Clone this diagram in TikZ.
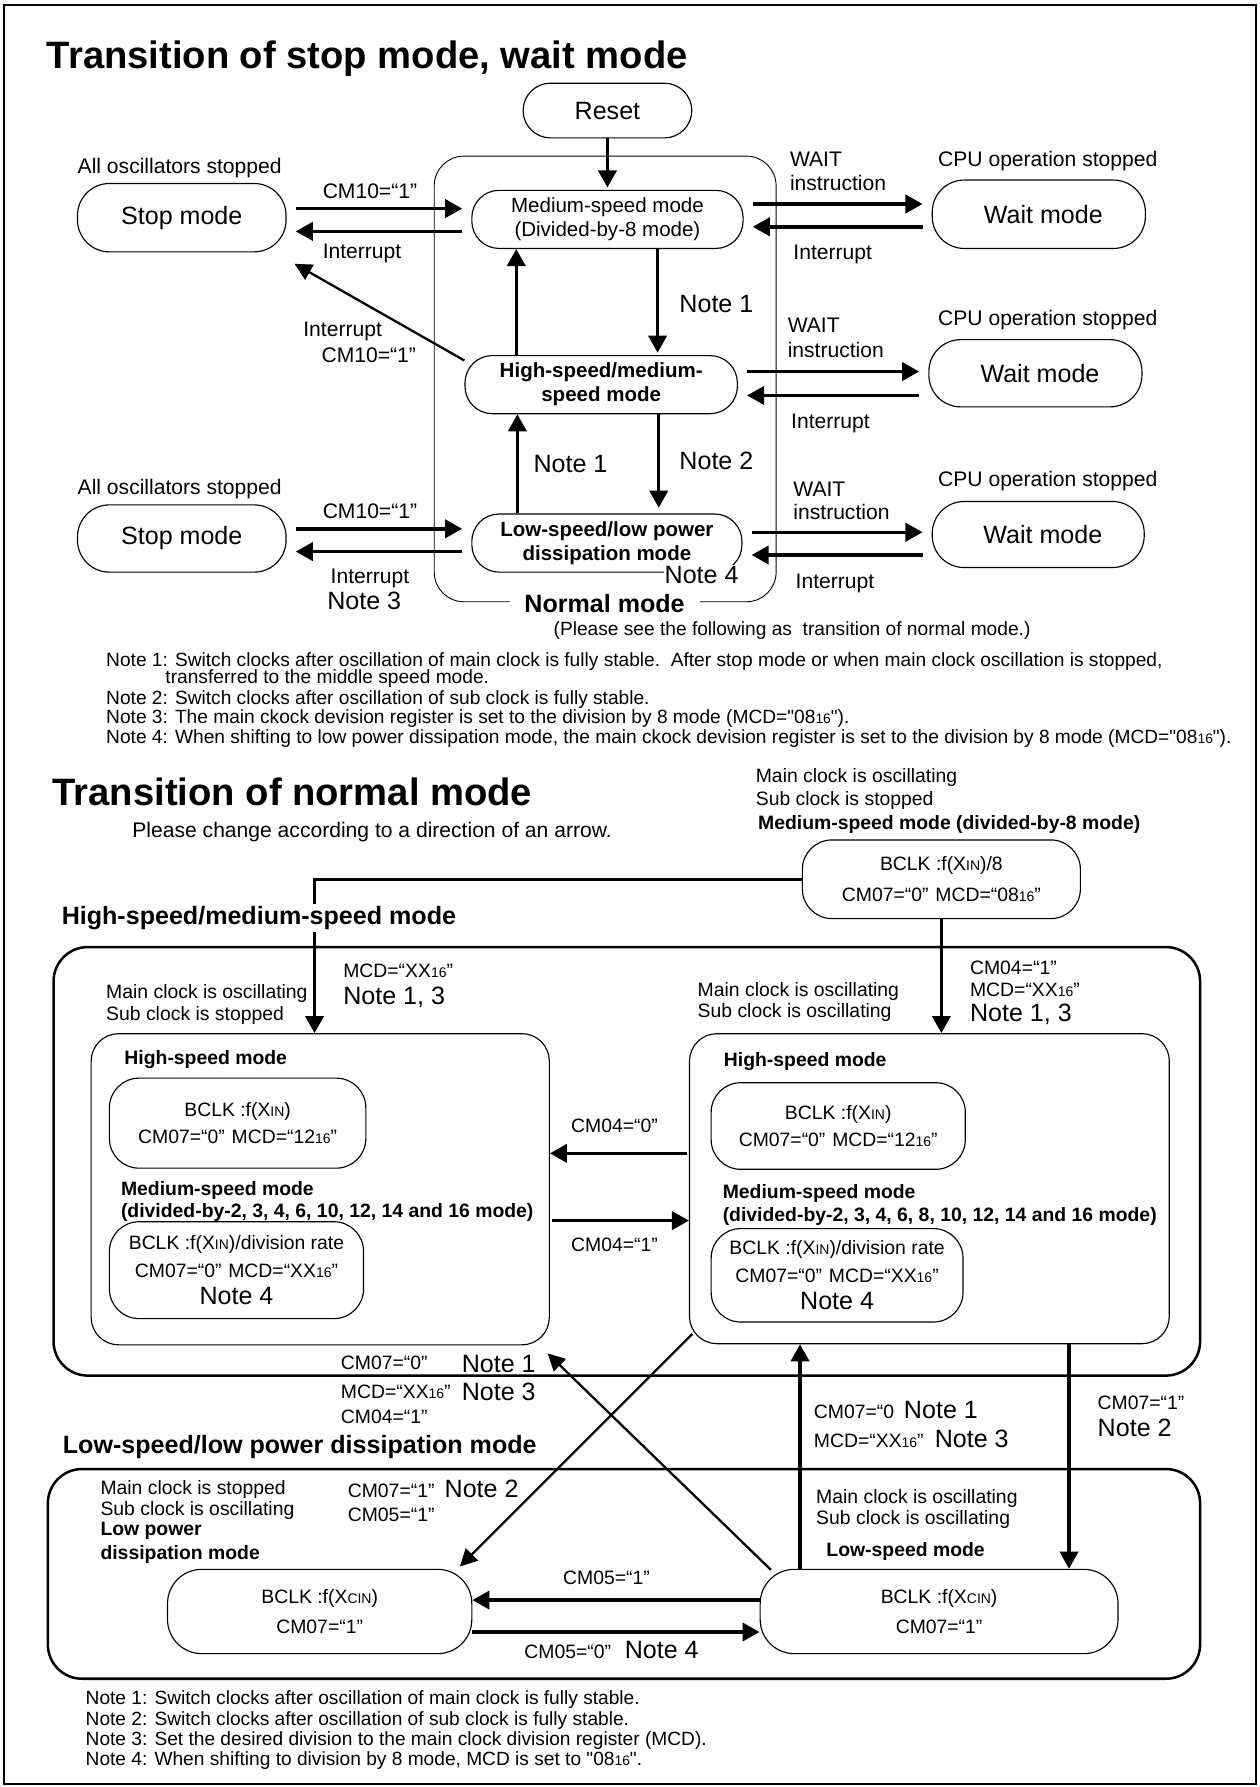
\documentclass[tikz,border=0pt]{standalone}
\usepackage{fontspec}
\setmainfont{Liberation Sans}
\newfontfamily\qfont{Liberation Sans}
\usepackage{graphicx}
\usetikzlibrary{arrows.meta,calc}

\newcommand{\lowsub}[1]{\scalebox{0.72}{#1}}
\newcommand{\ttlfont}{\fontsize{33.5}{40}\selectfont\bfseries}
\newcommand{\hdfont}{\fontsize{22}{26}\selectfont\bfseries}
\newcommand{\modefont}{\fontsize{22}{26}\selectfont}
\newcommand{\lblfont}{\fontsize{18.5}{21}\selectfont}
\newcommand{\bxfont}{\fontsize{18}{21}\selectfont}
\newcommand{\smfont}{\fontsize{17}{24}\selectfont}
\newcommand{\notefont}{\qfont\fontsize{16.8}{18}\selectfont}

\begin{document}
\begin{tikzpicture}[x=1pt,y=-1pt]
	\tikzstyle{modebox}=[draw,line width=1pt,rounded corners=24pt,inner sep=0pt,align=center]
	\tikzstyle{outerbox}=[draw,line width=2.2pt,rounded corners=30pt]
	\tikzstyle{txt}=[inner sep=0pt,anchor=base west]
	\tikzstyle{arr}=[line width=3pt,-{Triangle[length=15pt,width=16pt]}]
	\tikzstyle{harr}=[arr,shorten <=8pt,shorten >=8pt]
	\tikzstyle{darr}=[line width=2pt,-{Triangle[length=15pt,width=15pt]}]

	\useasboundingbox (0,0) rectangle (1105,1568);
	\draw[line width=1.8pt] (3.5,4) rectangle (1102,1565);

	% transition of stop mode, wait mode
	\node[txt,font=\ttlfont] (ttlA) at (41,60) {Transition of stop mode, wait mode};

	\node[draw,line width=0.8pt,rounded corners=26pt,minimum width=300pt,minimum height=391pt] (normal) at (531,332.5) {};
	\node[modebox,font=\modefont,minimum width=148pt,minimum height=48pt] (reset) at (533,97) {Reset};
	\node[modebox,font=\bxfont,minimum width=238pt,minimum height=51pt] (medA) at (533,192.5) {Medium-speed mode\\(Divided-by-8 mode)};
	\node[modebox,font={\bxfont\bfseries},minimum width=239pt,minimum height=51pt] (high) at (527.5,337.5) {High-speed/medium-\\speed mode};
	\node[modebox,font={\bxfont\bfseries},minimum width=237pt,minimum height=51pt] (low) at (532.5,476.5) {Low-speed/low power\\dissipation mode};

	\node[modebox,font=\modefont,rounded corners=28pt,minimum width=183pt,minimum height=60pt] (stopA) at (159.5,191) {Stop mode};
	\node[modebox,font=\modefont,rounded corners=28pt,minimum width=183pt,minimum height=59pt] (stopB) at (159.5,472.5) {Stop mode};
	\node[modebox,font=\modefont,rounded corners=28pt,minimum width=187pt,minimum height=60pt] (waitA) at (911.5,188) {\hspace*{8pt}\raisebox{-4pt}{Wait mode}};
	\node[modebox,font=\modefont,rounded corners=28pt,minimum width=187pt,minimum height=59pt] (waitB) at (908.5,327.5) {\hspace*{8pt}\raisebox{-3pt}{Wait mode}};
	\node[modebox,font=\modefont,rounded corners=28pt,minimum width=186pt,minimum height=58pt] (waitC) at (911,469) {\hspace*{8pt}\raisebox{-4pt}{Wait mode}};

	\draw[arr,shorten >=2pt] (reset) -- (medA);
	\draw[arr] ($(high.north)+(-74.5,0)$) -- ($(medA.south -| high.north)+(-74.5,0)$);
	\draw[arr,shorten >=2pt] ($(medA.south)+(44,0)$) -- ($(medA.south |- high.north)+(44,0)$);
	\draw[arr] ($(low.north)+(-78.5,0)$) -- ($(low.north |- high.south)+(-78.5,0)$);
	\draw[arr,shorten >=5pt] ($(high.south)+(50.5,0)$) -- ($(high.south |- low.north)+(50.5,0)$);

	\draw[harr] ($(stopA.east)+(0,-8)$) -- ($(stopA.east -| medA.west)+(0,-8)$);
	\draw[harr] ($(medA.west)+(0,10.5)$) -- ($(medA.west -| stopA.east)+(0,10.5)$);
	\draw[harr] ($(medA.east)+(0,-13.5)$) -- ($(medA.east -| waitA.west)+(0,-13.5)$);
	\draw[harr] ($(waitA.west)+(0,11)$) -- ($(waitA.west -| medA.east)+(0,11)$);
	\draw[harr] ($(high.east)+(0,-11.5)$) -- ($(high.east -| waitB.west)+(0,-11.5)$);
	\draw[harr] ($(waitB.west)+(0,19.5)$) -- ($(waitB.west -| high.east)+(0,19.5)$);
	\draw[harr] ($(stopB.east)+(0,-8.5)$) -- ($(stopB.east -| low.west)+(0,-8.5)$);
	\draw[harr] ($(low.west)+(0,7.5)$) -- ($(low.west -| stopB.east)+(0,7.5)$);
	\draw[harr] ($(low.east)+(0,-9.5)$) -- ($(low.east -| waitC.west)+(0,-9.5)$);
	\draw[harr] ($(waitC.west)+(0,18)$) -- ($(waitC.west -| low.east)+(0,18)$);
	\draw[darr] (high.170) -- ($(stopA.south east)+(7,10)$);

	\node[txt,font=\lblfont] (osc1) at (68,152) {All oscillators stopped};
	\node[txt,font=\lblfont] (cmA) at (283,174) {CM10=“1”};
	\node[txt,font=\lblfont] (intA) at (283,227) {Interrupt};
	\node[txt,font=\lblfont] (intD) at (266,295) {Interrupt};
	\node[txt,font=\lblfont] (cmD) at (282,318) {CM10=“1”};
	\node[txt,font=\lblfont] (osc2) at (68,434) {All oscillators stopped};
	\node[txt,font=\lblfont] (cmB) at (283,455) {CM10=“1”};
	\node[txt,font=\lblfont] (intB) at (290,512) {Interrupt};
	\node[txt,font=\modefont] (nt3) at (287,535) {Note 3};

	\node[txt,font=\lblfont] (cpuA) at (823,146) {CPU operation stopped};
	\node[txt,font=\lblfont] (wtA) at (693,146) {WAIT};
	\node[txt,font=\lblfont] (insA) at (693,167) {instruction};
	\node[txt,font=\lblfont] (wintA) at (696,228) {Interrupt};
	\node[txt,font=\lblfont] (cpuB) at (823,286) {CPU operation stopped};
	\node[txt,font=\lblfont] (wtB) at (691,292) {WAIT};
	\node[txt,font=\lblfont] (insB) at (691,314) {instruction};
	\node[txt,font=\lblfont] (wintB) at (694,376) {Interrupt};
	\node[txt,font=\lblfont] (cpuC) at (823,427) {CPU operation stopped};
	\node[txt,font=\lblfont] (wtC) at (696,436) {WAIT};
	\node[txt,font=\lblfont] (insC) at (696,456) {instruction};
	\node[txt,font=\lblfont] (wintC) at (698,516) {Interrupt};

	\node[txt,font=\modefont] (ntA) at (596,274) {Note 1};
	\node[txt,font=\modefont] (ntB) at (468,415) {Note 1};
	\node[txt,font=\modefont] (ntC) at (596,412) {Note 2};
	\node[txt,font=\modefont,fill=white,inner sep=1pt] (ntD) at (582,512) {Note 4};
	\node[font=\hdfont,fill=white,inner xsep=13pt,inner ysep=1pt,anchor=base] (normlbl) at (530.5,537) {Normal mode};
	\node[txt,font=\notefont,anchor=base] (see) at (695,558) {(Please see the following as \ transition of normal mode.)};

	\node[txt,font=\notefont] (topn1) at (93,585) {Note 1: Switch clocks after oscillation of main clock is fully stable.\ \ After stop mode or when main clock oscillation is stopped,};
	\node[txt,font=\notefont] (topn1b) at (145,600) {transferred to the middle speed mode.};
	\node[txt,font=\notefont] (topn2) at (93,618) {Note 2: Switch clocks after oscillation of sub clock is fully stable.};
	\node[txt,font=\notefont] (topn3) at (93,635) {Note 3: The main ckock devision register is set to the division by 8 mode (MCD="08\lowsub{16}").};
	\node[txt,font=\notefont] (topn4) at (93,652) {Note 4: When shifting to low power dissipation mode, the main ckock devision register is set to the division by 8 mode (MCD="08\lowsub{16}").};

	% transition of normal mode
	\node[txt,font=\ttlfont] (ttlB) at (46,706.5) {Transition of normal mode};
	\node[txt,font=\lblfont] (please) at (116,735) {Please change according to a direction of an arrow.};
	\node[txt,font=\smfont] (d8a) at (663,687) {Main clock is oscillating};
	\node[txt,font=\smfont] (d8b) at (663,707) {Sub clock is stopped};
	\node[txt,font={\smfont\bfseries}] (d8c) at (665,728) {Medium-speed mode (divided-by-8 mode)};
	\node[modebox,font=\smfont,rounded corners=26pt,minimum width=244pt,minimum height=69pt] (div8) at (826,771.5) {BCLK :f(X\lowsub{IN})/8\\[3pt]CM07=“0”\hspace{6pt}MCD=“08\lowsub{16}”};

	\node[outerbox,minimum width=1006pt,minimum height=376pt] (hsmsC) at (550,1019) {};
	\node[outerbox,minimum width=1011pt,minimum height=184pt] (lsC) at (547.5,1381) {};

	\node[modebox,rounded corners=24pt,minimum width=402pt,minimum height=273pt] (hsL) at (281,1043.5) {};
	\node[modebox,rounded corners=24pt,minimum width=421pt,minimum height=272pt] (hsR) at (815.5,1043) {};
	\node[modebox,font=\smfont,rounded corners=26pt,minimum width=225pt,minimum height=79pt] (hsLa) at (208.5,985.5) {BCLK :f(X\lowsub{IN})\\CM07=“0”\hspace{6pt}MCD=“12\lowsub{16}”};
	\node[modebox,font=\smfont,rounded corners=26pt,minimum width=223pt,minimum height=85pt] (hsLb) at (207.5,1114.5) {BCLK :f(X\lowsub{IN})/division rate\\CM07=“0”\hspace{6pt}MCD=“XX\lowsub{16}”\\{\modefont Note 4}};
	\node[modebox,font=\smfont,rounded corners=26pt,minimum width=223pt,minimum height=76pt] (hsRa) at (735.5,988) {BCLK :f(X\lowsub{IN})\\CM07=“0”\hspace{6pt}MCD=“12\lowsub{16}”};
	\node[modebox,font=\smfont,rounded corners=26pt,minimum width=221pt,minimum height=82pt] (hsRb) at (734.5,1119) {BCLK :f(X\lowsub{IN})/division rate\\CM07=“0”\hspace{6pt}MCD=“XX\lowsub{16}”\\{\modefont Note 4}};
	\node[modebox,font=\smfont,rounded corners=30pt,minimum width=267pt,minimum height=74pt] (lpd) at (280.5,1414) {BCLK :f(X\lowsub{CIN})\\[3pt]CM07=“1”};
	\node[modebox,font=\smfont,rounded corners=30pt,minimum width=314pt,minimum height=74pt] (lsm) at (824,1414) {BCLK :f(X\lowsub{CIN})\\[3pt]CM07=“1”};

	\draw[arr] (div8.west) -| ([xshift=-5pt]hsL.north);
	\draw[arr] (div8.south) -- (div8.south |- hsR.north);
	\draw[arr,shorten <=2pt] ($(hsR.west)+(0,-31)$) -- ($(hsR.west -| hsL.east)+(0,-31)$);
	\draw[arr,shorten <=2pt] ($(hsL.east)+(0,27.5)$) -- ($(hsL.east -| hsR.west)+(0,27.5)$);
	\draw[arr] ($(lsm.north)+(-122,0)$) -- ($(lsm.north |- hsR.south)+(-122,0)$);
	\draw[arr] ($(hsR.south)+(122.5,0)$) -- ($(hsR.south |- lsm.north)+(122.5,0)$);
	\draw[arr] ($(lsm.west)+(0,-10)$) -- ($(lsm.west -| lpd.east)+(0,-10)$);
	\draw[arr] ($(lpd.east)+(0,18)$) -- ($(lpd.east -| lsm.west)+(0,18)$);
	\draw[darr] ($(hsR.south west)+(3,-9)$) -- ($(lpd.north east)+(-11,-2)$);
	\draw[darr] ($(lsm.north west)+(10,1)$) -- ($(hsL.south east)+(-2,7)$);

	\node[txt,font=\hdfont,fill=white,inner sep=2pt] (hsttl) at (52,811) {High-speed/medium-speed mode};
	\node[txt,font=\hdfont] (lsttl) at (55,1275) {Low-speed/low power dissipation mode};

	\node[txt,font=\smfont] (hl1) at (93,876) {Main clock is oscillating};
	\node[txt,font=\smfont] (hl2) at (93,895) {Sub clock is stopped};
	\node[txt,font=\smfont] (hm1) at (301,858) {MCD=“XX\lowsub{16}”};
	\node[txt,font=\modefont] (hm2) at (301,881) {Note 1, 3};
	\node[txt,font=\smfont] (hr1) at (612,874) {Main clock is oscillating};
	\node[txt,font=\smfont] (hr2) at (612,893) {Sub clock is oscillating};
	\node[txt,font=\smfont] (hn1) at (851,855) {CM04=“1”};
	\node[txt,font=\smfont] (hn2) at (851,874) {MCD=“XX\lowsub{16}”};
	\node[txt,font=\modefont] (hn3) at (851,896) {Note 1, 3};

	\node[txt,font={\smfont\bfseries}] (hlh) at (109,934) {High-speed mode};
	\node[txt,font={\smfont\bfseries}] (hlm1) at (106,1049) {Medium-speed mode};
	\node[txt,font={\smfont\bfseries}] (hlm2) at (106,1068) {(divided-by-2, 3, 4, 6, 10, 12, 14 and 16 mode)};
	\node[txt,font={\smfont\bfseries}] (hrh) at (635,936) {High-speed mode};
	\node[txt,font={\smfont\bfseries}] (hrm1) at (634,1052) {Medium-speed mode};
	\node[txt,font={\smfont\bfseries}] (hrm2) at (634,1072) {(divided-by-2, 3, 4, 6, 8, 10, 12, 14 and 16 mode)};
	\node[txt,font=\smfont] (c40) at (501,994) {CM04=“0”};
	\node[txt,font=\smfont] (c41) at (501,1098) {CM04=“1”};

	\node[txt,font=\smfont] (x1) at (299,1202) {CM07=“0”};
	\node[txt,font=\modefont] (x2) at (405,1204) {Note 1};
	\node[txt,font=\smfont] (x3) at (299,1227) {MCD=“XX\lowsub{16}”};
	\node[txt,font=\modefont] (x4) at (405,1229) {Note 3};
	\node[txt,font=\smfont] (x5) at (299,1249) {CM04=“1”};
	\node[txt,font=\smfont] (u1) at (714,1245) {CM07=“0};
	\node[txt,font=\modefont] (u2) at (793,1245) {Note 1};
	\node[txt,font=\smfont] (u3) at (714,1270) {MCD=“XX\lowsub{16}”};
	\node[txt,font=\modefont] (u4) at (820,1270) {Note 3};
	\node[txt,font=\smfont] (v1) at (963,1237) {CM07=“1”};
	\node[txt,font=\modefont] (v2) at (963,1260) {Note 2};

	\node[txt,font=\smfont] (ll1) at (88,1311) {Main clock is stopped};
	\node[txt,font=\smfont] (ll2) at (88,1330) {Sub clock is oscillating};
	\node[txt,font={\smfont\bfseries}] (ll3) at (88,1347) {Low power};
	\node[txt,font={\smfont\bfseries}] (ll4) at (88,1368) {dissipation mode};
	\node[txt,font=\smfont] (lc1) at (305,1314) {CM07=“1”};
	\node[txt,font=\modefont] (lc2) at (390,1314) {Note 2};
	\node[txt,font=\smfont] (lc3) at (305,1335) {CM05=“1”};
	\node[txt,font=\smfont] (lr1) at (716,1319) {Main clock is oscillating};
	\node[txt,font=\smfont] (lr2) at (716,1338) {Sub clock is oscillating};
	\node[txt,font={\smfont\bfseries}] (lr3) at (725,1366) {Low-speed mode};
	\node[txt,font=\smfont] (c51) at (494,1390) {CM05=“1”};
	\node[txt,font=\smfont] (c50) at (460,1455) {CM05=“0”};
	\node[txt,font=\modefont] (c50n) at (548,1455) {Note 4};

	\node[txt,font=\notefont] (btn1) at (75,1496) {Note 1: Switch clocks after oscillation of main clock is fully stable.};
	\node[txt,font=\notefont] (btn2) at (75,1514) {Note 2: Switch clocks after oscillation of sub clock is fully stable.};
	\node[txt,font=\notefont] (btn3) at (75,1532) {Note 3: Set the desired division to the main clock division register (MCD).};
	\node[txt,font=\notefont] (btn4) at (75,1549) {Note 4: When shifting to division by 8 mode, MCD is set to "08\lowsub{16}".};
\end{tikzpicture}
\end{document}
